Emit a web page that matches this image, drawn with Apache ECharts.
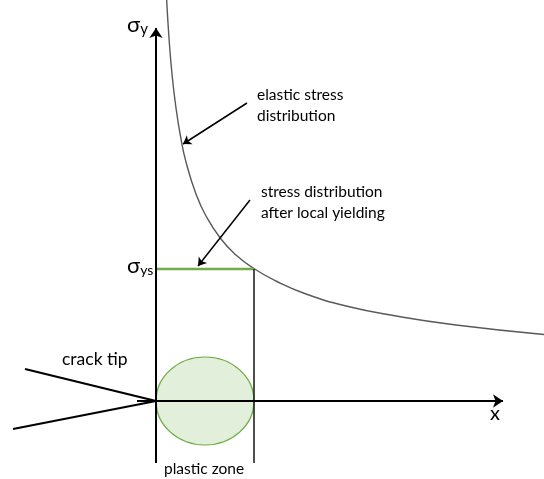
<!DOCTYPE html>
<html>
<head>
<meta charset="utf-8">
<script src="https://cdn.jsdelivr.net/npm/echarts@6/dist/echarts.min.js"></script>
<style>
  html, body { margin: 0; padding: 0; background: #fff; }
  #chart { width: 544px; height: 479px; }
</style>
</head>
<body>
<div id="chart"></div>
<script>
// elastic stress curve (x = distance from crack tip, y = stress)
const curveX = [10.5, 13, 16, 20, 25, 30, 40, 50, 65, 80, 97, 120, 150, 190, 240, 300, 388];
const curveY = [404, 363, 327, 293, 262, 239, 207, 185, 162, 146, 133, 120, 107, 95, 85, 76, 66.5];

// yield stress level and plastic zone size
const yieldStress = 132;
const plasticZone = 98;

// axes and crack flanks
const yAxisLine = [[0, -62], [0, 373]];
const xAxisLine = [[-19, 0], [347, 0]];
const crackUpper = [[-131, 32], [0, 0]];
const crackLower = [[-143, -28], [0, 0]];
const zoneEdge = [[plasticZone, yieldStress], [plasticZone, -62]];
const yieldLine = [[0, yieldStress], [plasticZone, yieldStress]];

// annotation arrows [from, to]
const arrowElastic = [[91, 298], [27, 257]];
const arrowYield = [[94, 201], [42, 135]];

const chart = echarts.init(document.getElementById('chart'));

const font = 'Lato, "Open Sans", sans-serif';

// plain straight segment
function seg(pts, color, width) {
  return {
    type: 'line',
    data: pts,
    symbol: 'none',
    silent: true,
    lineStyle: { color: color, width: width },
    z: 3
  };
}

// segment with an arrow head at the end
function arrowLine(pts, color, width, size) {
  return {
    type: 'lines',
    coordinateSystem: 'cartesian2d',
    silent: true,
    symbol: ['none', 'arrow'],
    symbolSize: size,
    lineStyle: { color: color, width: width, opacity: 1 },
    data: [{ coords: pts }],
    z: 4
  };
}

chart.setOption({
  animation: false,
  grid: { left: 0, right: 0, top: 0, bottom: 0 },
  xAxis: { type: 'value', min: -156, max: 388, show: false },
  yAxis: { type: 'value', min: -78, max: 401, show: false },
  series: [
    // plastic zone ellipse
    {
      type: 'scatter',
      data: [[plasticZone / 2, 0]],
      symbol: 'circle',
      symbolSize: [plasticZone, 88],
      silent: true,
      itemStyle: { color: '#e2efda', borderColor: '#70ad47', borderWidth: 1.3, opacity: 1 },
      z: 1
    },
    // elastic stress curve
    {
      type: 'line',
      data: curveX.map((x, i) => [x, curveY[i]]),
      smooth: true,
      symbol: 'none',
      silent: true,
      lineStyle: { color: '#595959', width: 1.4 },
      z: 2
    },
    seg(yieldLine, '#70ad47', 2.4),
    seg(zoneEdge, '#222', 1.6),
    seg(crackUpper, '#000', 2.2),
    seg(crackLower, '#000', 2.2),
    arrowLine(yAxisLine, '#000', 2, 10),
    arrowLine(xAxisLine, '#000', 2, 10),
    arrowLine(arrowElastic, '#000', 1.5, 8),
    arrowLine(arrowYield, '#000', 1.5, 8)
  ],
  graphic: [
    {
      type: 'text', left: 127, top: 14,
      style: {
        text: '{s|σ}{sub|y}',
        rich: {
          s: { fontSize: 22, fontFamily: font, fill: '#000' },
          sub: { fontSize: 15, fontFamily: font, fill: '#000', padding: [9, 0, 0, 0] }
        }
      }
    },
    {
      type: 'text', left: 127, top: 255,
      style: {
        text: '{s|σ}{sub|ys}',
        rich: {
          s: { fontSize: 22, fontFamily: font, fill: '#000' },
          sub: { fontSize: 14, fontFamily: font, fill: '#000', padding: [9, 0, 0, 0] }
        }
      }
    },
    { type: 'text', left: 257, top: 84, style: { text: 'elastic stress\ndistribution', font: '15.5px ' + font, lineHeight: 21, fill: '#000' } },
    { type: 'text', left: 261, top: 181, style: { text: 'stress distribution\nafter local yielding', font: '15.5px ' + font, lineHeight: 21, fill: '#000' } },
    { type: 'text', left: 62, top: 350, style: { text: 'crack tip', font: '17.5px ' + font, fill: '#000' } },
    { type: 'text', left: 490, top: 404, style: { text: 'x', font: '20px ' + font, fill: '#000' } },
    { type: 'text', left: 164, top: 461, style: { text: 'plastic zone', font: '15.5px ' + font, fill: '#000' } }
  ]
});
</script>
</body>
</html>
